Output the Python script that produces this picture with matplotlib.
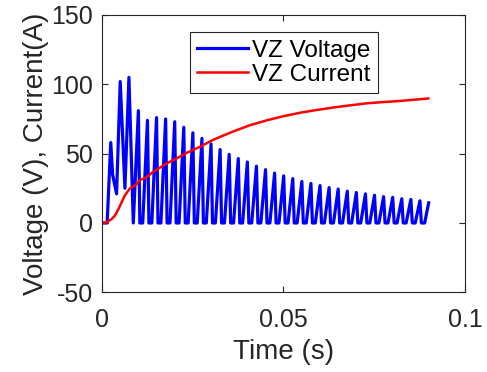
import numpy as np
import matplotlib.pyplot as plt

plt.rcParams['font.family'] = ['Liberation Sans', 'DejaVu Sans']

# start-up part of the voltage
v_start_t = [0, 0.0015, 0.0025, 0.0030, 0.0041, 0.0051, 0.0064, 0.0075, 0.0087]
v_start_v = [0, 0, 58, 35, 21, 102, 25, 105, 0]

# periodic teeth after start-up: peak times and heights
first_peak = 0.0101
period = 0.0025
peaks = [81, 74, 76, 75, 73, 69, 65, 61, 57, 53, 49.5, 46.5, 44, 41, 38.5, 36,
         34, 32, 30, 28.5, 27, 25.5, 24.5, 23, 22, 21, 20, 19, 18.5, 17.5, 17, 16]
t_end, v_end = 0.09, 14.5

# current
cur_t = [0, 0.0014, 0.0028, 0.0037, 0.0046, 0.0055, 0.0064, 0.0078, 0.0092,
         0.0106, 0.0124, 0.0142, 0.0161, 0.0179, 0.0206, 0.0234, 0.0271, 0.0307,
         0.0362, 0.0408, 0.0454, 0.05, 0.0546, 0.0592, 0.0638, 0.0683, 0.0729,
         0.0775, 0.0821, 0.0899]
cur_v = [0, 0.5, 3, 5.5, 10, 15, 20, 25, 27, 31, 33, 37, 40, 43, 46.5, 50.6,
         55, 60, 66, 70.5, 74, 77, 79.5, 81.5, 83.3, 84.8, 86.3, 87.2, 88, 89.8]

# build sawtooth vertices: ramp up 1.3 ms, drop 0.4 ms, rest at 0
vt = list(v_start_t)
vv = list(v_start_v)
for k, pk in enumerate(peaks):
    p = first_peak + k * period
    if k > 0:
        vt.append(p - 0.0013)
        vv.append(0)
    vt += [p, p + 0.0004]
    vv += [pk, 0]
vt += [t_end - 0.0011, t_end]
vv += [0, v_end]

fig = plt.figure(figsize=(4.87, 3.72), dpi=100)
ax = fig.add_axes([0.2088, 0.2142, 0.746, 0.7455])

ax.plot(vt, vv, color='#0000ff', lw=2.3, label='VZ Voltage')
ax.plot(cur_t, cur_v, color='#ff0000', lw=1.8, label='VZ Current')

ax.set_xlim(0, 0.1)
ax.set_ylim(-50, 150)
ax.set_xticks([0, 0.05, 0.1])
ax.set_xticklabels(['0', '0.05', '0.1'])
ax.set_yticks([-50, 0, 50, 100, 150])
ax.set_yticklabels(['-50', '0', '50', '100', '150'])
ax.tick_params(direction='in', top=True, right=True, length=4, width=0.8,
               labelsize=18, colors='#262626', pad=6)
ax.tick_params(axis='x', pad=11)
for s in ax.spines.values():
    s.set_color('#262626')
    s.set_linewidth(0.8)

ax.set_xlabel('Time (s)', fontsize=20, color='#262626', labelpad=5)
ax.set_ylabel('Voltage (V), Current(A)', fontsize=20, color='#262626', labelpad=2)

leg = ax.legend(loc='upper center', bbox_to_anchor=(0.502, 0.9376), borderaxespad=0,
                fontsize=17.5, handlelength=2.1, handletextpad=0.16, borderpad=0.3,
                labelspacing=0.08, fancybox=False, framealpha=1)
leg.get_frame().set_edgecolor('#262626')
leg.get_frame().set_linewidth(0.8)

fig.savefig('out.png', dpi=100)
